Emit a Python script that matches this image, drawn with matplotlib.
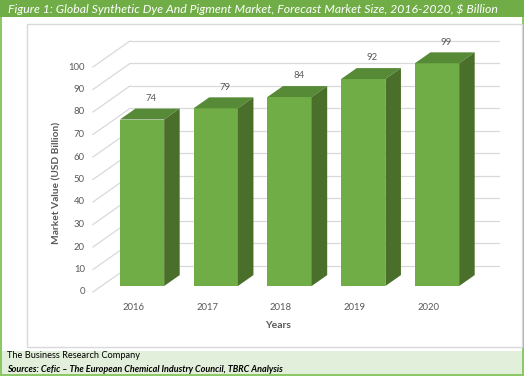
import matplotlib.pyplot as plt
from matplotlib.patches import Polygon, Rectangle

plt.rcParams['font.family'] = ['Lato', 'DejaVu Sans']

# data
years = ['2016', '2017', '2018', '2019', '2020']
market_size = [74, 79, 84, 92, 99]
y_ticks = [0, 10, 20, 30, 40, 50, 60, 70, 80, 90, 100]

TITLE = 'Figure 1: Global Synthetic Dye And Pigment Market, Forecast Market Size, 2016-2020, $ Billion'
FOOT1 = 'The Business Research Company'
FOOT2 = 'Sources: Cefic \u2013 The European Chemical Industry Council, TBRC Analysis'

FRONT = '#70AD47'
TOP = '#568A36'
SIDE = '#4A6F2A'
GRID = '#D9D9D9'
TXT = '#595959'

# oblique 3d projection: depth 0 = front wall, 1 = back wall
DX, DY = 0.502, 11.56
Z_FRONT, Z_BACK = 0.23, 0.65
X_LO, X_HI = -0.55, 4.45
BAR_W = 0.6

fig = plt.figure(figsize=(5.24, 3.76), dpi=100)
W, H = 524, 376

# page decorations in pixels -> figure fraction
def frac_rect(x0, y0, x1, y1, **kw):
    fig.patches.append(Rectangle((x0 / W, 1 - y1 / H), (x1 - x0) / W, (y1 - y0) / H,
                                 transform=fig.transFigure, **kw))

frac_rect(0, 0, 524, 17, facecolor='#70AD47', edgecolor='none', zorder=0)
frac_rect(0, 351, 524, 374, facecolor='#E2EFDA', edgecolor='none', zorder=0)
frac_rect(0, 17, 2, 376, facecolor='#8CC866', edgecolor='none', zorder=0)
frac_rect(522, 17, 524, 376, facecolor='#8CC866', edgecolor='none', zorder=0)
frac_rect(0, 374, 524, 376, facecolor='#8CC866', edgecolor='none', zorder=0)
frac_rect(27, 24, 521.5, 347, facecolor='none', edgecolor=GRID, lw=1, zorder=0)

fig.text(8 / W, 1 - 9 / H, TITLE, color='white', style='italic', fontsize=8.85,
         ha='left', va='center')
fig.text(7 / W, 1 - 356 / H, FOOT1, color='black', fontsize=6.7, ha='left', va='center')
fig.text(7 / W, 1 - 369.5 / H, FOOT2, color='black', fontsize=6.5, style='italic',
         weight='bold', ha='left', va='center')

# chart axes covering whole figure; 1 x unit = 73.75 px, 1 y unit = 2.25 px
ax = fig.add_axes([0, 0, 1, 1])
ax.set_xlim((0 - 133.5) / 73.75, (524 - 133.5) / 73.75)
ax.set_ylim((292 - 376) / 2.25, 292 / 2.25)
ax.axis('off')
ax.patch.set_alpha(0)

# walls
for v in y_ticks:
    ax.plot([X_LO + DX, X_HI + DX], [v + DY, v + DY], color=GRID, lw=0.9, zorder=1)
    ax.plot([X_LO, X_LO + DX], [v, v + DY], color=GRID, lw=0.9, zorder=1)
    ax.text(X_LO - 0.11, v, str(v), ha='right', va='center', fontsize=6.8, color=TXT)

# bars
for i, (yr, v) in enumerate(zip(years, market_size)):
    xf = i + DX * Z_FRONT - BAR_W / 2
    yf = DY * Z_FRONT
    ox = DX * (Z_BACK - Z_FRONT)
    oy = DY * (Z_BACK - Z_FRONT)
    ax.bar(xf, v, width=BAR_W, bottom=yf, align='edge', color=FRONT, zorder=3)
    ax.add_patch(Polygon([(xf, yf + v), (xf + BAR_W, yf + v), (xf + BAR_W + ox, yf + v + oy),
                          (xf + ox, yf + v + oy)], closed=True, facecolor=TOP,
                         edgecolor='none', zorder=3))
    ax.add_patch(Polygon([(xf + BAR_W, yf), (xf + BAR_W + ox, yf + oy),
                          (xf + BAR_W + ox, yf + v + oy), (xf + BAR_W, yf + v)], closed=True,
                         facecolor=SIDE, edgecolor='none', zorder=3))
    ax.text(i + 0.24, v + 12, str(v), ha='center', va='center', fontsize=6.8, color=TXT)
    ax.text(i, -6.7, yr, ha='center', va='center', fontsize=6.8, color=TXT)

ax.text(1.96, -15.1, 'Years', ha='center', va='center', fontsize=7.5, weight='bold', color=TXT)
ax.text(-1.04, 48.4, 'Market Value (USD Billion)', ha='center', va='center', rotation=90,
        fontsize=7.3, weight='bold', color=TXT)

fig.savefig('out.png', dpi=100)
